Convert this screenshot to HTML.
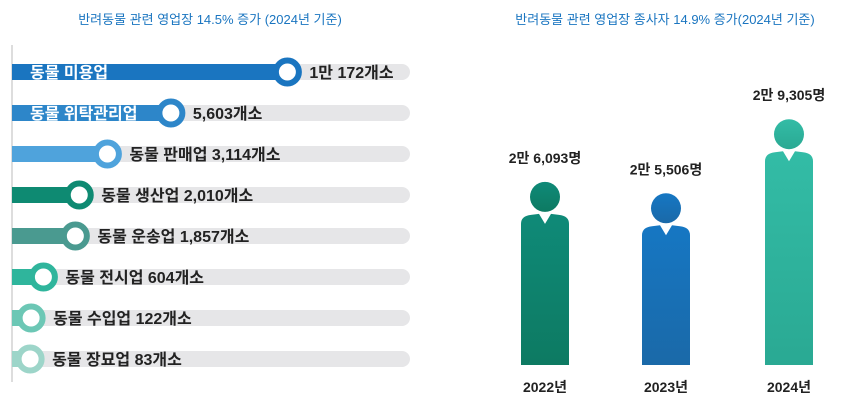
<!DOCTYPE html>
<html><head><meta charset="utf-8"><style>
body{margin:0;width:867px;height:408px;background:#fff;overflow:hidden;font-family:"Liberation Sans","Noto Sans CJK KR",sans-serif}
svg text{font-family:"Liberation Sans","Noto Sans CJK KR",sans-serif}
</style></head><body>
<svg id="c" width="867" height="408">
<defs>
<linearGradient id="g0" x1="0" y1="0" x2="0" y2="1"><stop offset="0" stop-color="#0f8a78"/><stop offset="1" stop-color="#0d7a62"/></linearGradient>
<linearGradient id="g1" x1="0" y1="0" x2="0" y2="1"><stop offset="0" stop-color="#1677c3"/><stop offset="1" stop-color="#1a69a8"/></linearGradient>
<linearGradient id="g2" x1="0" y1="0" x2="0" y2="1"><stop offset="0" stop-color="#33bca6"/><stop offset="1" stop-color="#2aa993"/></linearGradient>
</defs>
<text x="210" y="24" text-anchor="middle" font-size="13" fill="#1a75c0">반려동물 관련 영업장 14.5% 증가 (2024년 기준)</text>
<text x="665" y="24" text-anchor="middle" font-size="13" fill="#1a75c0">반려동물 관련 영업장 종사자 14.9% 증가(2024년 기준)</text>
<line x1="12" y1="45" x2="12" y2="382" stroke="#ddd" stroke-width="2"/>
<g id="left"></g><g id="right"></g>
</svg>
<script>
const cats=["동물 미용업","동물 위탁관리업","동물 판매업","동물 생산업","동물 운송업","동물 전시업","동물 수입업","동물 장묘업"];
const counts=[10172,5603,3114,2010,1857,604,122,83];
const countLabels=["1만 172개소","5,603개소","3,114개소","2,010개소","1,857개소","604개소","122개소","83개소"];
const colors=["#1a75c0","#2d86c9","#4fa3dc","#0e8a72","#4a9a90","#2fb59c","#6cc7b5","#9dd5c9"];
const years=["2022년","2023년","2024년"];
const workers=[26093,25506,29305];
const workerLabels=["2만 6,093명","2만 5,506명","2만 9,305명"];
const NS="http://www.w3.org/2000/svg";
function mk(t,a,p){const e=document.createElementNS(NS,t);for(const k in a)e.setAttribute(k,a[k]);p.appendChild(e);return e;}
const xs=v=>28+v*0.0255;
const rowY=i=>72+i*41;
const L=document.getElementById('left');
cats.forEach((c,i)=>{
 const y=rowY(i),cx=xs(counts[i]);
 const tr=mk('rect',{x:12,y:y-8,width:398,height:16,rx:8,fill:'#e6e6e8'},L);
 
 
 const b=mk('rect',{x:12,y:y-8,width:cx-12,height:16,fill:colors[i]},L);
 
 
 const o=mk('circle',{cx:cx,cy:y,r:11.5,fill:'#fff',stroke:colors[i],'stroke-width':6},L);
 
 
 if(i<2){
  const t=mk('text',{x:30,y:y+6,'font-size':16,'font-weight':'bold',fill:'#fff'},L);t.textContent=c;
  
  
  const v=mk('text',{x:cx+22,y:y+6,'font-size':16,'font-weight':'bold',fill:'#222'},L);v.textContent=countLabels[i];
  
  
 }else{
  const t=mk('text',{x:cx+22,y:y+6,'font-size':16,'font-weight':'bold',fill:'#222'},L);t.textContent=c+' '+countLabels[i];
  
  
 }
});
const R=document.getElementById('right');
const base=365,hs=v=>(v-16700)*0.0195;
const cxs=[545,666,789];
workers.forEach((w,i)=>{
 const top=base-hs(w),cx=cxs[i],hw=24;
 const bt=top+34;
 const g=mk('g',{},R);
 
 
 mk('circle',{cx:cx,cy:top+15,r:15,fill:'url(#g'+i+')'},g);
 mk('path',{d:`M${cx-hw} ${base} V${bt+8} Q${cx-hw} ${bt} ${cx-hw+10} ${bt-1} L${cx-6} ${bt-2} L${cx} ${bt+8} L${cx+6} ${bt-2} L${cx+hw-10} ${bt-1} Q${cx+hw} ${bt} ${cx+hw} ${bt+8} V${base} Z`,fill:'url(#g'+i+')'},g);
 const t=mk('text',{x:cx,y:top-19,'text-anchor':'middle','font-size':14,'font-weight':'bold',fill:'#222'},R);t.textContent=workerLabels[i];
 
 
 const yl=mk('text',{x:cx,y:392,'text-anchor':'middle','font-size':14,'font-weight':'bold',fill:'#222'},R);yl.textContent=years[i];
 
 
});
</script>
</body></html>
